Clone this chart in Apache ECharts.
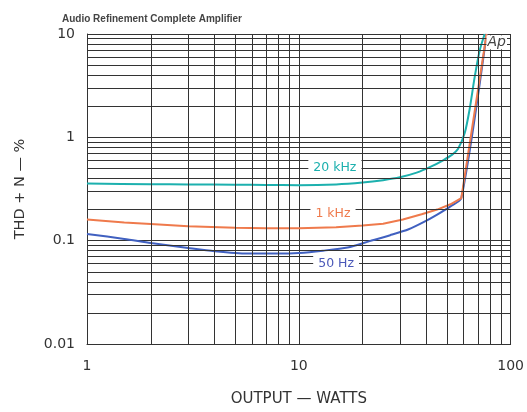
<!DOCTYPE html>
<html>
<head>
<meta charset="utf-8">
<script src="https://cdn.jsdelivr.net/npm/echarts@6/dist/echarts.min.js"></script>
<style>
html,body{margin:0;padding:0;background:#fff;}
#c{width:527px;height:412px;}
</style>
</head>
<body>
<div id="c"></div>
<script>
// ---- data ----
const title = 'Audio Refinement Complete Amplifier';
const xName = 'OUTPUT — WATTS';
const yName = 'THD + N — %';

const p20k = [1, 2, 3, 5, 7, 10, 15, 20, 25, 30, 36, 42, 48, 53, 56.4, 60.7, 64, 67.6, 71.4, 75.4];
const t20k = [0.357, 0.352, 0.35, 0.348, 0.346, 0.344, 0.35, 0.365, 0.385, 0.41, 0.455, 0.52, 0.6, 0.68, 0.77, 1.1, 1.86, 3.8, 6.9, 10];

const p1k = [1, 1.5, 2, 3, 5, 7, 10, 15, 20, 25, 31, 38, 45, 52, 58.5, 77];
const t1k = [0.16, 0.15, 0.145, 0.138, 0.133, 0.132, 0.132, 0.135, 0.14, 0.146, 0.16, 0.18, 0.2, 0.225, 0.258, 10];

const p50 = [1, 1.5, 2, 3, 4, 5.7, 8, 10, 13, 17, 21.6, 27, 33, 39, 45, 52, 58.5, 77];
const t50 = [0.116, 0.104, 0.095, 0.085, 0.079, 0.075, 0.075, 0.076, 0.08, 0.086, 0.099, 0.113, 0.129, 0.152, 0.179, 0.215, 0.258, 10];

const minorX = [2, 3, 4, 5, 6, 7, 8, 9, 20, 30, 40, 50, 60, 70, 80, 90];
const minorY = [0.02, 0.03, 0.04, 0.05, 0.06, 0.07, 0.08, 0.09, 0.2, 0.3, 0.4, 0.5, 0.6, 0.7, 0.8, 0.9, 2, 3, 4, 5, 6, 7, 8, 9];

const labelNames = ['20 kHz', '1 kHz', '50 Hz'];
const labelAt = [[14.8, 0.51], [14.5, 0.183], [15, 0.06]];

const colTeal = '#1cb0ae', colOrange = '#ef7a4c', colBlue = '#4060c0';
const gridCol = '#333';

function zip(a, b) { return a.map((v, i) => [v, b[i]]); }
function fmt(v) { return String(Number(Number(v).toPrecision(3))); }

function tag(name, coord, color) {
  return {
    data: [{ coord: coord, value: name }],
    symbol: 'rect', symbolSize: 1,
    itemStyle: { color: 'rgba(0,0,0,0)' },
    silent: true,
    label: {
      show: true, position: 'inside', formatter: name,
      color: color, fontSize: 12.5, fontFamily: 'DejaVu Sans',
      backgroundColor: '#fff', padding: [1, 5]
    }
  };
}

const chart = echarts.init(document.getElementById('c'));
chart.setOption({
  animation: false,
  backgroundColor: '#fff',
  title: {
    text: title, left: 57, top: 9,
    textStyle: { fontSize: 10, fontWeight: 'bold', color: '#444', fontFamily: 'Liberation Sans' }
  },
  grid: { left: 87, right: 16, top: 34, bottom: 62 },
  xAxis: {
    type: 'log', logBase: 10, min: 1, max: 100,
    name: xName, nameLocation: 'middle', nameGap: 48,
    nameTextStyle: { fontSize: 15, color: '#333', fontFamily: 'DejaVu Sans' },
    axisLine: { show: true, lineStyle: { color: gridCol, width: 1 } },
    axisTick: { show: false },
    axisLabel: { formatter: fmt, margin: 15, fontSize: 14, color: '#333', fontFamily: 'DejaVu Sans' },
    splitLine: { show: true, lineStyle: { color: gridCol, width: 1 } }
  },
  yAxis: {
    type: 'log', logBase: 10, min: 0.01, max: 10,
    name: yName, nameLocation: 'middle', nameGap: 59, nameRotate: 90,
    nameTextStyle: { fontSize: 14.5, color: '#333', fontFamily: 'DejaVu Sans' },
    axisLine: { show: true, lineStyle: { color: gridCol, width: 1 } },
    axisTick: { show: false },
    axisLabel: { formatter: fmt, margin: 12, fontSize: 14, color: '#333', fontFamily: 'DejaVu Sans' },
    splitLine: { show: true, lineStyle: { color: gridCol, width: 1 } }
  },
  series: [
    {
      name: 'grid', type: 'line', data: [], z: 1, silent: true,
      markLine: {
        silent: true, symbol: 'none', animation: false,
        label: { show: false },
        lineStyle: { color: gridCol, width: 1, type: 'solid' },
        data: minorX.map(v => ({ xAxis: v })).concat(minorY.map(v => ({ yAxis: v })))
      },
      markPoint: {
        data: [{ coord: [86, 8.3], value: 'Ap' }],
        symbol: 'rect', symbolSize: 1, itemStyle: { color: 'rgba(0,0,0,0)' }, silent: true,
        label: {
          show: true, position: 'inside', formatter: 'Ap', color: '#444',
          fontSize: 14, fontStyle: 'italic', fontFamily: 'DejaVu Sans',
          backgroundColor: '#fff', padding: [0, 1]
        }
      }
    },
    {
      name: '50 Hz', type: 'line', data: zip(p50, t50), z: 3,
      showSymbol: false, smooth: 0.25, clip: true,
      lineStyle: { color: colBlue, width: 2 },
      markPoint: tag(labelNames[2], labelAt[2], '#4a58b8')
    },
    {
      name: '1 kHz', type: 'line', data: zip(p1k, t1k), z: 4,
      showSymbol: false, smooth: false, clip: true,
      lineStyle: { color: colOrange, width: 2 },
      markPoint: tag(labelNames[1], labelAt[1], colOrange)
    },
    {
      name: '20 kHz', type: 'line', data: zip(p20k, t20k), z: 3,
      showSymbol: false, smooth: 0.25, clip: true,
      lineStyle: { color: colTeal, width: 2 },
      markPoint: tag(labelNames[0], labelAt[0], colTeal)
    }
  ]
});
</script>
</body>
</html>
